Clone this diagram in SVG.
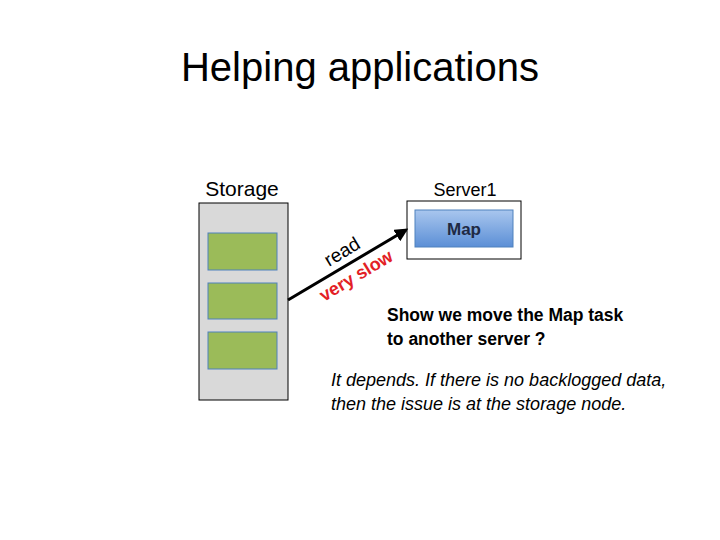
<svg xmlns="http://www.w3.org/2000/svg" width="720" height="540" viewBox="0 0 720 540">
<style>
text{font-family:"Liberation Sans","Open Sans",sans-serif}
.green{fill:#9bbb59;stroke:#4f81bd;stroke-width:1}
</style>
<defs>
<linearGradient id="mapg" x1="0" y1="0" x2="0" y2="1">
<stop offset="0" stop-color="#a9c6ee"/>
<stop offset="1" stop-color="#5b8fd6"/>
</linearGradient>
<marker id="ah" viewBox="0 0 10 10" refX="8" refY="5" markerWidth="4.5" markerHeight="4.5" orient="auto">
<path d="M0,0 L10,5 L0,10 z" fill="#000"/>
</marker>
</defs>
<rect width="720" height="540" fill="#fff"/>
<text x="360" y="81" font-size="40" text-anchor="middle" fill="#000">Helping applications</text>
<g id="storage">
<text x="242" y="196" font-size="21" text-anchor="middle">Storage</text>
<rect x="199" y="203" width="89" height="197" fill="#d9d9d9" stroke="#000" stroke-width="1"/>
<rect class="green" x="208" y="233" width="69" height="37"/>
<rect class="green" x="208" y="283" width="69" height="36"/>
<rect class="green" x="208" y="332" width="69" height="37"/>
</g>
<g id="server1">
<text x="465" y="196" font-size="18" text-anchor="middle">Server1</text>
<rect x="407" y="201" width="114" height="58" fill="#fff" stroke="#000" stroke-width="1"/>
<rect x="415" y="210" width="98" height="37" fill="url(#mapg)" stroke="#4f81bd" stroke-width="1"/>
<text x="464" y="235" font-size="17" font-weight="bold" text-anchor="middle" fill="#1f2a44">Map</text>
</g>
<g id="connectors">
<line x1="288" y1="300" x2="406" y2="230" stroke="#000" stroke-width="3" marker-end="url(#ah)"/>
<text transform="translate(329,267) rotate(-31)" font-size="19" fill="#000">read</text>
<text transform="translate(324,302) rotate(-31)" font-size="18" font-weight="bold" fill="#e31f26">very slow</text>
</g>
<g id="notes">
<text x="387" y="321" font-size="17.5" font-weight="bold">Show we move the Map task</text>
<text x="387" y="345" font-size="17.5" font-weight="bold">to another server ?</text>
<text x="331" y="386" font-size="18" font-style="italic">It depends. If there is no backlogged data,</text>
<text x="331" y="410" font-size="18" font-style="italic">then the issue is at the storage node.</text>
</g>
</svg>
